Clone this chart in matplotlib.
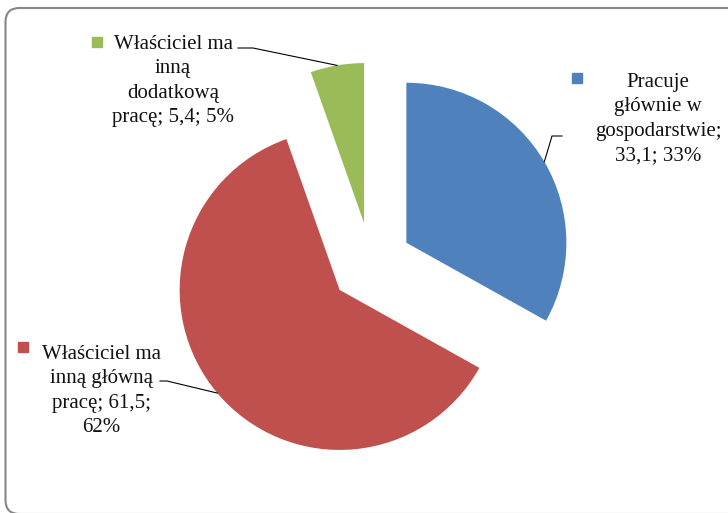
import numpy as np
import matplotlib
matplotlib.use("Agg")
import matplotlib.pyplot as plt
from matplotlib.patches import FancyBboxPatch

# Data
categories = [
    "Pracuje\ngłównie w\ngospodarstwie",
    "Właściciel ma\ninną główną\npracę",
    "Właściciel ma\ninną\ndodatkową\npracę",
]
values = [33.1, 61.5, 5.4]
colors = ["#4F81BD", "#C0504D", "#9BBB59"]
# line breaks before value / before percent
separators = [("\n", " "), (" ", "\n"), (" ", " ")]

W, H = 728, 513


def img(x, y):
    # image pixel coords -> data coords (y up)
    return x, H - y


fig = plt.figure(figsize=(W / 100, H / 100), dpi=100)
ax = fig.add_axes([0, 0, 1, 1])

total = sum(values)
cx, cy = img(371, 263.5)
wedges, _ = ax.pie(
    values,
    colors=colors,
    startangle=90,
    counterclock=False,
    radius=160,
    center=(cx, cy),
    explode=[41, 41, 41],
)
ax.set_xlim(0, W)
ax.set_ylim(0, H)
ax.set_aspect("equal")
ax.axis("off")

# Chart border
border = FancyBboxPatch(
    (5.5, -1), 740, 506,
    boxstyle="round,pad=0,rounding_size=14",
    fc="none", ec="#868686", lw=1.5,
)
ax.add_patch(border)

# Label layout (image px): text centre, key square, leader elbow
text_pos = [(658, 119), (101, 391), (173, 81)]
key_pos = [(577, 78), (23, 347), (97, 42)]
leader_start = [((562, 136), (552, 136)), ((160, 381), (167, 381)), ((238, 48), (253, 48))]

for i, w in enumerate(wedges):
    pct = round(values[i] / total * 100)
    val = str(values[i]).replace(".", ",")
    s1, s2 = separators[i]
    label = f"{categories[i]};{s1}{val};{s2}{pct}%"
    tx, ty = img(*text_pos[i])
    ax.text(tx, ty, label, ha="center", va="center", multialignment="center",
            fontsize=15, family="Liberation Serif", linespacing=1.37,
            color="#111111")
    kx, ky = img(*key_pos[i])
    ax.plot(kx, ky, marker="s", ms=7.5, color=colors[i], mec=colors[i], ls="none")

    # leader line to the arc midpoint of the wedge
    th = np.deg2rad((w.theta1 + w.theta2) / 2)
    mx = w.center[0] + w.r * np.cos(th)
    my = w.center[1] + w.r * np.sin(th)
    (ax0, ay0), (ax1, ay1) = leader_start[i]
    p0 = img(ax0, ay0)
    p1 = img(ax1, ay1)
    ax.plot([p0[0], p1[0], mx], [p0[1], p1[1], my], color="black", lw=0.8)

fig.savefig("out.png", dpi=100)
